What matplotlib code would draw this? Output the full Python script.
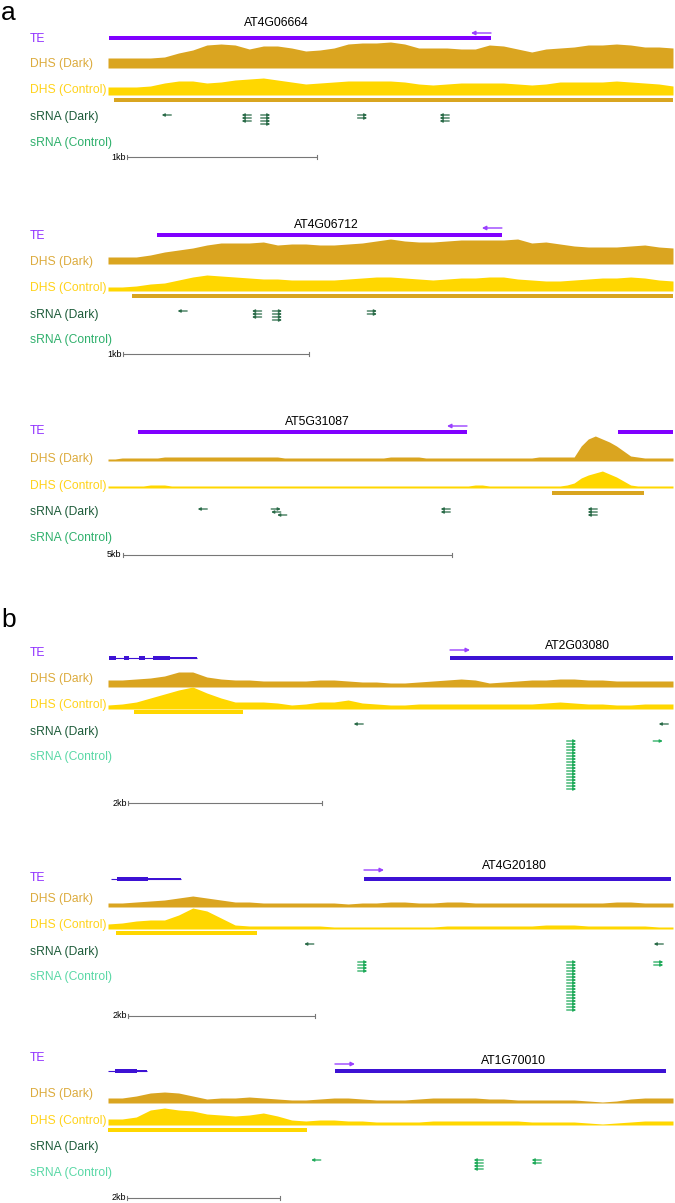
import numpy as np
import matplotlib.pyplot as plt
from matplotlib.transforms import blended_transform_factory

plt.rcParams['font.family'] = ['Liberation Sans', 'DejaVu Sans']

W, H = 675, 1203

# ---- browser windows (kb from window start) ----
window_kb = [2.974, 3.038, 8.587, 5.825, 6.043, 7.386]
gene_names = ['AT4G06664', 'AT4G06712', 'AT5G31087', 'AT2G03080', 'AT4G20180', 'AT1G70010']
gene_label_kb = [0.884, 1.172, 3.176, 4.845, 4.342, 5.307]

te_start = [[0.005], [0.263], [0.456, 7.751], [3.526], [2.738], [2.967]]
te_end = [[2.016], [2.118], [5.456, 8.587], [5.825], [6.021], [7.294]]
te_strand = ['-', '-', '-', '+', '+', '+']

peak_start = [0.032, 0.129, 6.748, 0.268, 0.086, 0.0]
peak_end = [2.974, 3.038, 8.146, 1.392, 1.594, 2.601]

scale_start = [0.100, 0.081, 0.228, 0.206, 0.214, 0.248]
scale_kb = [1, 1, 5, 2, 2, 2]

# gene models next to the TEs in panel b
gene_span = [None, None, None, (0.010, 0.918), (0.032, 0.781), (0.0, 0.510)]
gene_exons = [[], [], [], [(0.010, 0.082), (0.165, 0.216), (0.320, 0.381), (0.464, 0.639)],
              [(0.096, 0.428)], [(0.092, 0.379)]]
gene_utr = [[], [], [], [(0.639, 0.918)], [(0.428, 0.781)], [(0.379, 0.510)]]

# ---- DHS coverage (evenly spaced bins across each window) ----
dhs_dark_a1 = [10, 10, 10, 10, 11, 15, 18, 23, 24, 23, 19, 22, 22, 20, 17, 18, 20, 24, 25, 25,
               26, 24, 20, 20, 20, 19, 19, 23, 22, 19, 16, 19, 20, 21, 23, 23, 24, 23, 21, 21, 20]
dhs_ctrl_a1 = [8, 8, 8, 9, 12, 14, 14, 12, 13, 15, 16, 17, 15, 13, 11, 12, 13, 14, 14, 14,
               14, 13, 11, 10, 11, 12, 12, 12, 12, 11, 10, 11, 13, 13, 13, 13, 14, 13, 12, 11, 9]
dhs_dark_a2 = [7, 7, 7, 9, 12, 14, 16, 19, 21, 21, 21, 22, 19, 20, 20, 19, 19, 20, 21, 23,
               25, 23, 22, 22, 23, 24, 24, 24, 24, 25, 21, 22, 20, 18, 17, 17, 17, 18, 19, 17, 16]
dhs_ctrl_a2 = [4, 4, 5, 7, 8, 11, 14, 16, 15, 14, 13, 12, 12, 11, 11, 11, 11, 12, 13, 14,
               14, 13, 12, 11, 12, 13, 13, 14, 14, 12, 11, 10, 10, 11, 12, 13, 13, 14, 13, 11, 10]
dhs_dark_a3 = [2, 2, 3, 3, 3, 3, 3, 3, 4, 4, 4, 4, 4, 4, 4, 4, 4, 4, 4, 4,
               4, 4, 4, 4, 4, 3, 3, 3, 3, 3, 3, 3, 3, 3, 3, 3, 3, 3, 3, 3,
               4, 4, 4, 4, 4, 3, 3, 3, 3, 3, 3, 3, 3, 3, 3, 3, 3, 3, 3, 3,
               3, 4, 4, 4, 4, 4, 4, 15, 22, 25, 22, 19, 15, 10, 5, 4, 3, 3, 3, 3, 3]
dhs_ctrl_a3 = [2, 2, 2, 2, 2, 2, 3, 3, 3, 2, 2, 2, 2, 2, 2, 2, 2, 2, 2, 2,
               2, 2, 2, 2, 2, 2, 2, 2, 2, 2, 2, 2, 2, 2, 2, 2, 2, 2, 2, 2,
               2, 2, 2, 2, 2, 2, 2, 2, 2, 2, 2, 2, 3, 3, 2, 2, 2, 2, 2, 2,
               2, 2, 2, 2, 2, 3, 5, 10, 13, 15, 17, 14, 11, 7, 3, 2, 2, 2, 2, 2, 2]
dhs_dark_b1 = [7, 7, 8, 9, 11, 15, 15, 10, 8, 7, 7, 6, 6, 6, 6, 7, 7, 6, 5, 5,
               4, 4, 5, 6, 7, 8, 7, 4, 5, 6, 7, 7, 8, 8, 7, 7, 6, 6, 6, 6, 6]
dhs_ctrl_b1 = [4, 5, 7, 11, 15, 19, 22, 16, 11, 7, 7, 7, 6, 4, 5, 7, 7, 9, 6, 5,
               4, 4, 5, 5, 5, 5, 5, 5, 5, 5, 5, 6, 7, 6, 5, 5, 4, 4, 5, 5, 5]
dhs_dark_b2 = [4, 4, 5, 6, 7, 9, 11, 9, 7, 5, 5, 4, 4, 4, 4, 4, 4, 3, 4, 4,
               5, 5, 4, 4, 5, 5, 4, 4, 4, 4, 4, 4, 4, 4, 4, 4, 5, 5, 4, 4, 4]
dhs_ctrl_b2 = [5, 6, 8, 9, 9, 14, 21, 18, 11, 4, 3, 3, 3, 3, 3, 3, 2, 2, 2, 2,
               2, 2, 2, 2, 3, 3, 3, 3, 3, 3, 3, 4, 4, 4, 3, 3, 3, 3, 3, 2, 2]
dhs_dark_b3 = [5, 5, 7, 10, 11, 10, 7, 4, 5, 5, 6, 5, 4, 3, 3, 4, 5, 5, 4, 3,
               3, 3, 4, 5, 5, 5, 5, 4, 4, 3, 3, 3, 3, 3, 2, 1, 2, 4, 5, 5, 5]
dhs_ctrl_b3 = [6, 6, 8, 15, 17, 15, 14, 11, 10, 9, 10, 12, 9, 5, 4, 5, 5, 4, 4, 3,
               3, 3, 3, 4, 4, 4, 4, 4, 4, 4, 3, 3, 3, 3, 2, 1, 2, 3, 4, 4, 4]

dhs_dark = [dhs_dark_a1, dhs_dark_a2, dhs_dark_a3, dhs_dark_b1, dhs_dark_b2, dhs_dark_b3]
dhs_ctrl = [dhs_ctrl_a1, dhs_ctrl_a2, dhs_ctrl_a3, dhs_ctrl_b1, dhs_ctrl_b2, dhs_ctrl_b3]

# ---- sRNA reads: centre (kb), strand, stack size, first stack row ----
srna_dark_kb = [[0.308, 0.729, 0.829, 1.339, 1.771], [0.40, 0.80, 0.91, 1.42],
                [1.436, 2.553, 2.553, 2.644, 5.129, 7.363], [2.582, 5.727], [2.150, 5.888], []]
srna_dark_strand = [['-', '-', '+', '+', '-'], ['-', '-', '+', '+'],
                    ['-', '+', '-', '-', '-', '-'], ['-', '-'], ['-', '-'], []]
srna_dark_n = [[1, 3, 4, 2, 3], [1, 3, 4, 2], [1, 1, 1, 1, 2, 3], [1, 1], [1, 1], []]
srna_dark_row = [[0, 0, 0, 0, 0], [0, 0, 0, 0], [0, 0, 1, 2, 0, 0], [0, 0], [0, 0], []]

srna_ctrl_kb = [[], [], [], [4.778, 5.670], [2.722, 4.957, 5.888], [2.719, 4.843, 5.601]]
srna_ctrl_strand = [[], [], [], ['+', '+'], ['+', '+', '+'], ['-', '-', '-']]
srna_ctrl_n = [[], [], [], [17, 1], [4, 17, 2], [1, 4, 2]]

track_labels = ['TE', 'DHS (Dark)', 'DHS (Control)', 'sRNA (Dark)', 'sRNA (Control)']

# ---- layout (figure pixel rows) ----
layout = [
    dict(band=(10, 165), gene=23, te=38, arrow=33, dark=68, ctrl=95, peak=100,
         sd=115, sc=141, scale=157, labels=[39, 64, 90, 117, 143]),
    dict(band=(205, 362), gene=225, te=235, arrow=228, dark=264, ctrl=291, peak=296,
         sd=311, sc=337, scale=354, labels=[236, 262, 288, 315, 340]),
    dict(band=(405, 562), gene=422, te=432, arrow=426, dark=461, ctrl=488, peak=493,
         sd=509, sc=535, scale=555, labels=[431, 459, 486, 512, 538]),
    dict(band=(630, 810), gene=646, te=658, arrow=650, dark=687, ctrl=709, peak=712,
         sd=724, sc=741, scale=803, labels=[653, 679, 705, 732, 757]),
    dict(band=(850, 1022), gene=866, te=879, arrow=870, dark=907, ctrl=929, peak=933,
         sd=944, sc=962, scale=1016, labels=[878, 899, 925, 952, 977]),
    dict(band=(1040, 1203), gene=1061, te=1071, arrow=1064, dark=1103, ctrl=1125, peak=1130,
         sd=1147, sc=1160, scale=1198, labels=[1058, 1094, 1121, 1147, 1173]),
]

te_color = ['#8000ff'] * 3 + ['#3d12d4'] * 3
peak_color = ['#d9a520'] * 3 + ['#ffd700'] * 3
label_colors_a = ['#9030ff', '#dcab3d', '#ffd31a', '#1d5c3a', '#2fb06c']
label_colors_b = ['#9030ff', '#dcab3d', '#ffd31a', '#1d5c3a', '#5ad8a6']
dark_fill, ctrl_fill = '#daa520', '#ffd700'
srna_dark_col, srna_ctrl_col = '#2a6b48', '#1faa5a'
strand_col = '#9a40ff'


def draw_arrow(ax, tail, head, y, color, lw, ms):
    ax.annotate('', xy=(head, y), xytext=(tail, y), annotation_clip=False,
                arrowprops=dict(arrowstyle='-|>', color=color, lw=lw,
                                mutation_scale=ms, shrinkA=0, shrinkB=0))


def draw_reads(ax, pos, strand, count, row, y0, color, ppk):
    half = 4.8 / ppk
    for p, s, n, r in zip(pos, strand, count, row):
        for k in range(n):
            y = y0 + 3 * (r + k)
            if s == '+':
                draw_arrow(ax, p - half, p + half, y, color, 0.9, 4)
            else:
                draw_arrow(ax, p + half, p - half, y, color, 0.9, 4)


fig = plt.figure(figsize=(W / 100, H / 100), dpi=100)

for i, L in enumerate(layout):
    top, bottom = L['band']
    ax = fig.add_axes([108 / W, 1 - bottom / H, 565 / W, (bottom - top) / H])
    win = window_kb[i]
    ppk = 565 / win
    ax.set_xlim(0, win)
    ax.set_ylim(bottom, top)
    ax.set_axis_off()

    # left track labels
    trans = blended_transform_factory(fig.transFigure, ax.transData)
    cols = label_colors_a if i < 3 else label_colors_b
    for lab, y, c in zip(track_labels, L['labels'], cols):
        ax.text(30 / W, y, lab, transform=trans, color=c, fontsize=8.7,
                ha='left', va='center')

    # gene model (panel b)
    if gene_span[i] is not None:
        s0, s1 = gene_span[i]
        ax.hlines(L['te'], s0, s1, color=te_color[i], lw=0.8)
        for e0, e1 in gene_exons[i]:
            ax.barh(L['te'], e1 - e0, left=e0, height=4.5, color=te_color[i], lw=0)
        for e0, e1 in gene_utr[i]:
            ax.barh(L['te'], e1 - e0, left=e0, height=2.5, color=te_color[i], lw=0)

    # TE bars + strand arrow
    for s0, s1 in zip(te_start[i], te_end[i]):
        ax.barh(L['te'], s1 - s0, left=s0, height=4.8, color=te_color[i], lw=0)
    alen = 20 / ppk
    if te_strand[i] == '-':
        e = te_end[i][0]
        draw_arrow(ax, e, e - alen, L['arrow'], strand_col, 1.0, 6)
    else:
        s = te_start[i][0]
        draw_arrow(ax, s, s + alen, L['arrow'], strand_col, 1.0, 6)
    ax.text(gene_label_kb[i], L['gene'], gene_names[i], ha='center', va='center',
            fontsize=8.8, color='black')

    # DHS coverage
    d = np.array(dhs_dark[i], dtype=float)
    xd = np.linspace(0, win, len(d))
    ax.fill_between(xd, L['dark'] - d, L['dark'], color=dark_fill, lw=0)
    c = np.array(dhs_ctrl[i], dtype=float)
    xc = np.linspace(0, win, len(c))
    ax.fill_between(xc, L['ctrl'] - c, L['ctrl'], color=ctrl_fill, lw=0)

    # DHS peak call
    ax.barh(L['peak'], peak_end[i] - peak_start[i], left=peak_start[i], height=4,
            color=peak_color[i], lw=0)

    # sRNA reads
    draw_reads(ax, srna_dark_kb[i], srna_dark_strand[i], srna_dark_n[i],
               srna_dark_row[i], L['sd'], srna_dark_col, ppk)
    draw_reads(ax, srna_ctrl_kb[i], srna_ctrl_strand[i], srna_ctrl_n[i],
               [0] * len(srna_ctrl_kb[i]), L['sc'], srna_ctrl_col, ppk)

    # scale bar
    s0 = scale_start[i]
    s1 = s0 + scale_kb[i]
    y = L['scale']
    ax.plot([s0, s1], [y, y], color='#777777', lw=0.8, solid_capstyle='butt')
    ax.plot([s0, s0], [y - 2, y + 2], color='#777777', lw=0.8)
    ax.plot([s1, s1], [y - 2, y + 2], color='#777777', lw=0.8)
    ax.annotate('%dkb' % scale_kb[i], xy=(s0, y), xytext=(-1, 0),
                textcoords='offset points', ha='right', va='center', fontsize=6.5)

fig.text(1 / W, 1 - 20 / H, 'a', fontsize=19, ha='left', va='baseline')
fig.text(1 / W, 1 - 627 / H, 'b', fontsize=19, ha='left', va='baseline')

fig.savefig('out.png', dpi=100)
